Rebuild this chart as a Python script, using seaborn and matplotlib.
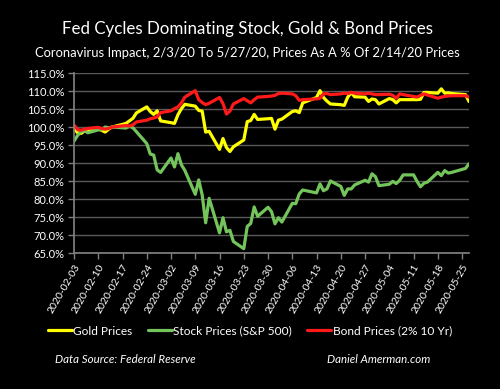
import matplotlib
matplotlib.use("Agg")
import matplotlib.pyplot as plt
import matplotlib.dates as mdates
from matplotlib.lines import Line2D
import numpy as np
import pandas as pd
import seaborn as sns

feb = [3, 4, 5, 6, 7, 10, 11, 12, 13, 14, 18, 19, 20, 21, 24, 25, 26, 27, 28]
mar = [2, 3, 4, 5, 6, 9, 10, 11, 12, 13, 16, 17, 18, 19, 20, 23, 24, 25, 26, 27, 30, 31]
apr = [1, 2, 3, 6, 7, 8, 9, 13, 14, 15, 16, 17, 20, 21, 22, 23, 24, 27, 28, 29, 30]
may = [1, 4, 5, 6, 7, 8, 11, 12, 13, 14, 15, 18, 19, 20, 21, 22, 26, 27]
dates = ([f"2020-02-{d:02d}" for d in feb] + [f"2020-03-{d:02d}" for d in mar]
         + [f"2020-04-{d:02d}" for d in apr] + [f"2020-05-{d:02d}" for d in may])

gold = [99.8, 98.4, 98.2, 98.9, 99.3, 99.4, 99.1, 98.6, 99.4, 100.0, 101.0, 101.7, 102.4, 103.9, 105.6, 104.3, 103.5, 104.5, 101.7,
        101.2, 101.0, 103.4, 105.1, 106.3, 105.8, 104.6, 104.4, 98.6, 98.8, 93.8, 96.8, 94.3, 93.2, 94.5, 96.4, 101.5, 101.8, 103.5, 102.1, 102.3, 102.4,
        99.4, 101.9, 102.2, 104.3, 104.5, 104.0, 106.7, 108.2, 110.1, 108.2, 107.2, 106.4, 106.2, 106.0, 108.3, 109.6, 108.4, 108.3, 107.1, 107.8, 107.6,
        106.4, 107.9, 107.6, 106.7, 107.6, 107.6, 107.6, 107.6, 107.7, 109.6, 109.6, 109.4, 110.6, 109.4, 109.5, 109.3, 109.0, 107.1]

stock = [96.1, 97.6, 98.7, 99.0, 98.4, 99.2, 99.3, 100.0, 99.8, 100.0, 99.7, 100.2, 99.8, 98.7, 95.4, 92.5, 92.2, 88.1, 87.4,
         91.4, 88.9, 92.6, 89.5, 87.9, 81.3, 85.3, 81.1, 73.4, 80.2, 70.6, 74.8, 70.9, 71.3, 68.2, 66.2, 72.4, 73.2, 77.8, 75.2, 77.7, 76.5,
         73.1, 74.8, 73.6, 78.8, 78.7, 81.4, 82.5, 81.7, 84.2, 82.3, 82.8, 85.0, 83.5, 81.0, 82.8, 82.8, 83.9, 85.2, 84.7, 87.0, 86.2,
         83.7, 84.1, 84.9, 84.3, 85.2, 86.7, 86.7, 84.9, 83.4, 84.4, 84.7, 87.4, 86.5, 87.9, 87.2, 87.4, 88.5, 89.8]

bond = [100.6, 99.3, 99.1, 99.4, 99.6, 99.9, 99.6, 99.4, 99.6, 100.0, 100.4, 100.3, 100.6, 101.4, 101.9, 102.3, 102.5, 102.8, 104.0,
        104.5, 105.1, 105.6, 106.7, 108.3, 110.1, 107.6, 106.8, 106.2, 106.6, 108.2, 106.5, 103.6, 104.4, 106.4, 107.9, 107.3, 106.7, 107.6, 108.3, 108.5, 108.6,
        108.8, 109.3, 109.4, 109.2, 108.7, 107.4, 107.6, 107.8, 108.0, 109.2, 109.3, 109.0, 109.2, 109.4, 109.3, 109.6, 109.4, 109.2, 109.4, 109.2, 109.0,
        109.0, 109.1, 108.8, 108.0, 109.2, 109.0, 108.5, 108.3, 108.8, 109.2, 108.9, 108.0, 108.3, 108.5, 108.6, 108.7, 108.7, 108.3]

series_names = ["Gold Prices", "Stock Prices (S&P 500)", "Bond Prices (2% 10 Yr)"]
colors = ["#ffff00", "#74c45c", "#ff1a1a"]
y_ticks = [65, 70, 75, 80, 85, 90, 95, 100, 105, 110, 115]

df = pd.concat([
    pd.DataFrame({"date": pd.to_datetime(dates), "value": vals, "series": name})
    for name, vals in zip(series_names, [gold, stock, bond])
])

sns.set_theme(style="dark")
plt.rcParams["font.family"] = ["Lato", "DejaVu Sans"]

fig = plt.figure(figsize=(5.0, 3.89), dpi=100, facecolor="black")
ax = fig.add_axes([0.148, 0.3496, 0.79, 0.4627])
ax.set_facecolor("black")

sns.lineplot(data=df, x="date", y="value", hue="series", hue_order=series_names,
             palette=colors, linewidth=2.3, ax=ax, legend=False)

ax.set_xlim(pd.Timestamp("2020-02-03"), pd.Timestamp("2020-05-27"))
ax.set_ylim(65, 115)
ax.set_yticks(y_ticks)
ax.set_yticklabels([f"{v:.1f}%" for v in y_ticks], color="white", fontsize=8)
ax.yaxis.grid(True, color="#595959", linewidth=1.0)
ax.xaxis.grid(False)
ax.set_axisbelow(True)

ax.xaxis.set_major_locator(mdates.WeekdayLocator(byweekday=mdates.MO))
ax.xaxis.set_major_formatter(mdates.DateFormatter("%Y-%m-%d"))
for lab in ax.get_xticklabels():
    lab.set_rotation(60)
    lab.set_ha("right")
    lab.set_rotation_mode("anchor")
    lab.set_color("white")
    lab.set_fontsize(7.5)

ax.tick_params(axis="x", colors="#7f7f7f", length=4, width=1, labelcolor="white", pad=3, bottom=True)
ax.tick_params(axis="y", colors="#7f7f7f", length=4, width=1, labelcolor="white", pad=3, left=True)
ax.set_xlabel("")
ax.set_ylabel("")
for s in ["top", "right"]:
    ax.spines[s].set_visible(False)
ax.spines["left"].set_color("#7f7f7f")
ax.spines["bottom"].set_color("#7f7f7f")

fig.text(0.494, 0.925, "Fed Cycles Dominating Stock, Gold & Bond Prices",
         ha="center", va="center", color="white", fontsize=12.2)
fig.text(0.494, 0.864, "Coronavirus Impact, 2/3/20 To 5/27/20, Prices As A % Of 2/14/20 Prices",
         ha="center", va="center", color="white", fontsize=9.4)

handles = [Line2D([0], [0], color=c, lw=2.3) for c in colors]
fig.legend(handles, series_names, loc="center", bbox_to_anchor=(0.5, 0.149), ncol=3,
           frameon=False, fontsize=8.6, labelcolor="white", handlelength=2.0,
           handletextpad=0.1, columnspacing=1.3)

fig.text(0.11, 0.075, "Data Source: Federal Reserve", ha="left", va="center",
         color="white", fontsize=8.3, style="italic")
fig.text(0.654, 0.075, "Daniel Amerman.com", ha="left", va="center",
         color="white", fontsize=8.3, style="italic")

fig.savefig("out.png", dpi=100, facecolor="black")
